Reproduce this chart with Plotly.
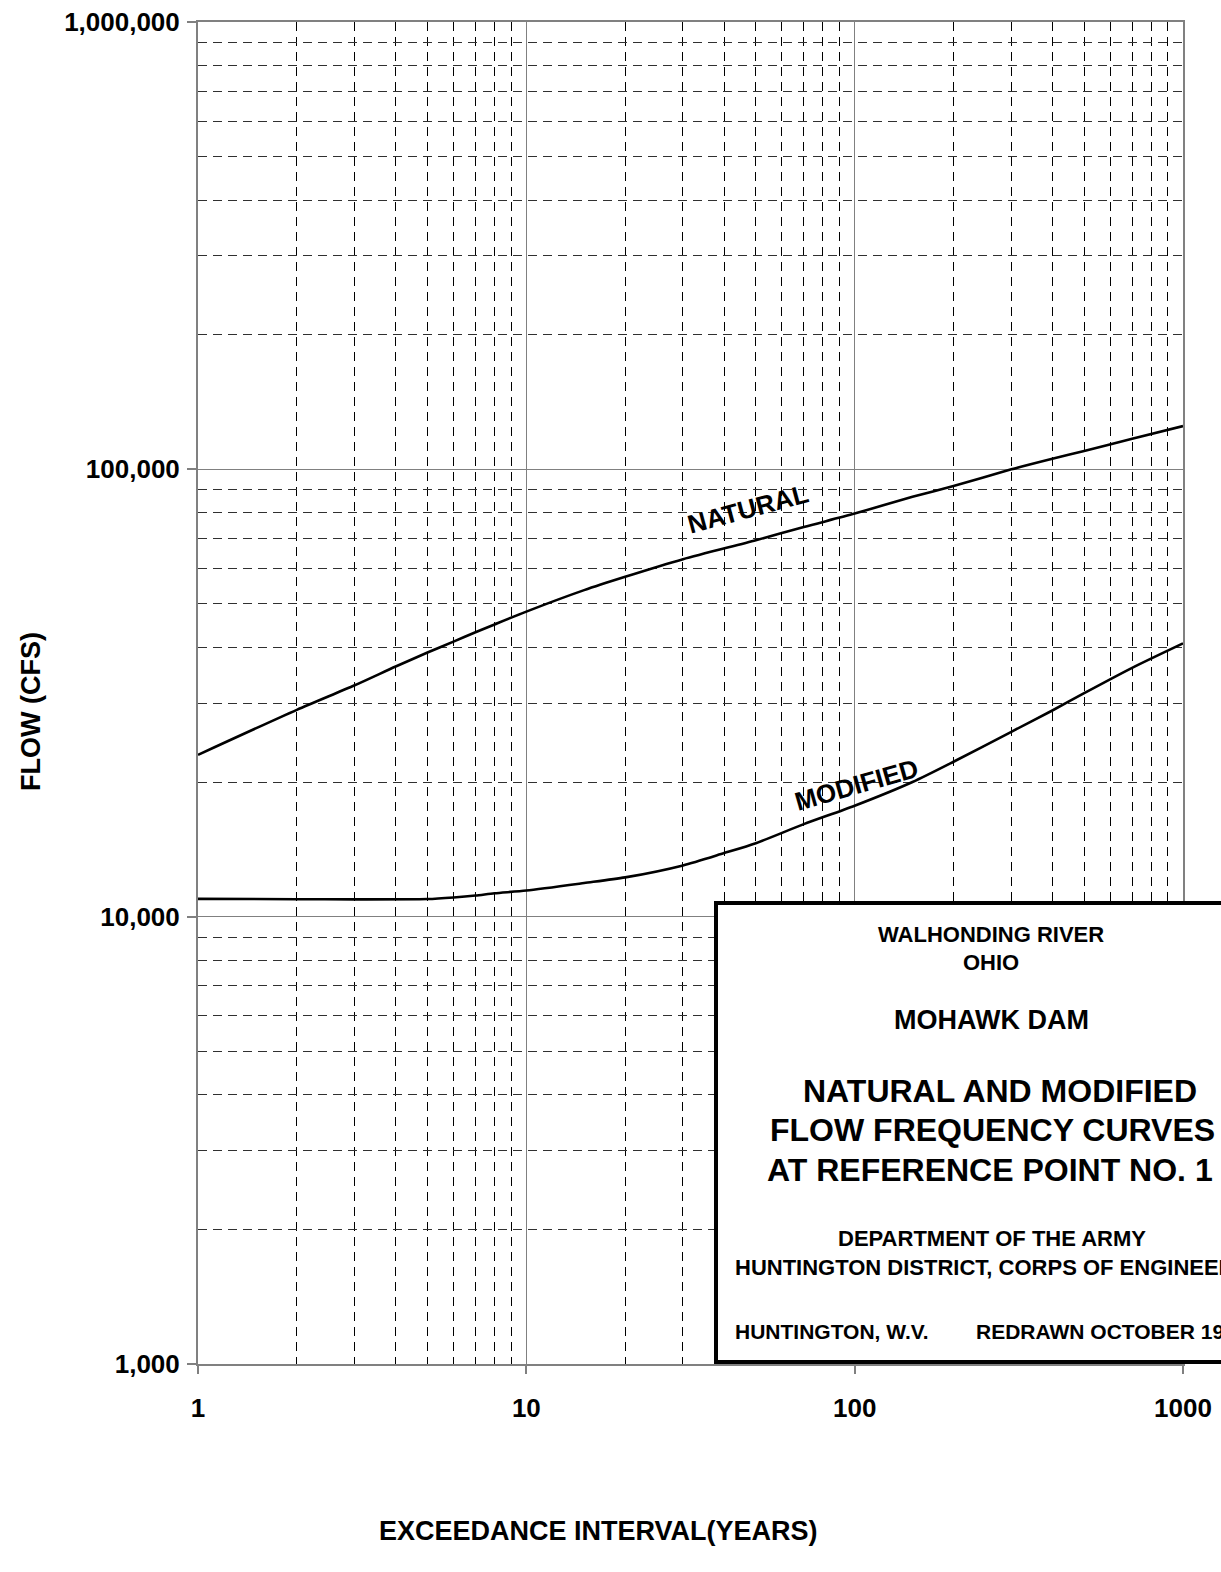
import math
import plotly.graph_objects as go

# ---- data ----
natural_x = [1, 2, 3, 4, 5, 6, 7, 8, 10, 15, 20, 30, 50, 70, 100, 150, 200, 300, 400, 500, 700, 1000]
natural_y = [23000, 29000, 32900, 36240, 38940, 41200, 43220, 45000, 48080, 53700, 57510, 62960,
             69410, 74330, 79620, 86800, 91800, 100000, 105600, 109900, 117100, 124950]

modified_x = [1, 2, 3, 5, 6, 7, 8, 10, 15, 20, 30, 40, 50, 70, 100, 150, 200, 300, 400, 500, 700, 1000]
modified_y = [10960, 10940, 10930, 10950, 11040, 11150, 11280, 11440, 11890, 12240, 13020, 13870,
              14600, 16100, 17700, 20000, 22200, 25900, 28900, 31600, 36000, 40830]

x_major = [1, 10, 100, 1000]
x_major_text = ["1", "10", "100", "1000"]
y_major = [1000, 10000, 100000, 1000000]
y_major_text = ["1,000", "10,000", "100,000", "1,000,000"]
x_minor = [m * d for d in (1, 10, 100) for m in range(2, 10)]
y_minor = [m * d for d in (1000, 10000, 100000) for m in range(2, 10)]

box_lines = [
    ("WALHONDING RIVER", 22, 991, 934),
    ("OHIO", 22, 991, 962),
    ("MOHAWK DAM", 27, 991, 1020),
    ("NATURAL AND MODIFIED", 32, 1000, 1091),
    ("FLOW FREQUENCY CURVES", 32, 992, 1130),
    ("AT REFERENCE POINT NO. 1", 32, 990, 1170),
    ("DEPARTMENT OF THE ARMY", 22, 992, 1238),
    ("HUNTINGTON DISTRICT, CORPS OF ENGINEERS", 22, 992, 1267),
]

# ---- geometry (body margin removed by post_script, so figure fills the window) ----
W, H = 1221, 1572
L, T = 198, 22
R = W - 1183
B = H - 1364
PW, PH = W - L - R, H - T - B

def px(xpage):
    return (xpage - L) / PW

def py(ypage):
    return (H - B - ypage) / PH

FONT = "Liberation Sans, Arial, sans-serif"

def bold(size):
    return dict(family=FONT, size=size, color="black", weight="bold")

fig = go.Figure()
for xs, ys in ((natural_x, natural_y), (modified_x, modified_y)):
    fig.add_trace(go.Scatter(x=xs, y=ys, mode="lines",
                             line=dict(color="black", width=2.6, shape="spline", smoothing=0.7),
                             showlegend=False, hoverinfo="skip"))

axis_common = dict(
    type="log",
    showline=True, linecolor="#808080", linewidth=2, mirror=True,
    showgrid=True, gridcolor="#808080", gridwidth=1,
    ticks="outside", tickcolor="#808080", tickwidth=1.5,
    tickfont=bold(26),
    ticklabeloverflow="allow",
    zeroline=False,
)

fig.update_xaxes(
    **axis_common,
    range=[0, 3], tickmode="array", tickvals=x_major, ticktext=x_major_text,
    ticklen=8, ticklabelstandoff=12,
    minor=dict(tickmode="array", tickvals=x_minor, showgrid=True,
               griddash="9px,6px", gridcolor="black", gridwidth=1, ticks=""),
)
fig.update_yaxes(
    **axis_common,
    range=[3, 6], tickmode="array", tickvals=y_major, ticktext=y_major_text,
    ticklen=9, ticklabelstandoff=2,
    minor=dict(tickmode="array", tickvals=y_minor, showgrid=True,
               griddash="9px,6px", gridcolor="#303030", gridwidth=1, ticks=""),
)

annotations = []
# axis titles
annotations.append(dict(x=px(598), y=py(1531), xref="paper", yref="paper",
                        xanchor="center", yanchor="middle", text="EXCEEDANCE INTERVAL(YEARS)",
                        showarrow=False, font=bold(27)))
annotations.append(dict(x=px(31), y=py(712), xref="paper", yref="paper",
                        xanchor="center", yanchor="middle", text="FLOW (CFS)", textangle=-90,
                        showarrow=False, font=bold(27)))
# curve labels (log-axis annotations use log10 coordinates)
annotations.append(dict(x=math.log10(47.2), y=math.log10(81700), xref="x", yref="y",
                        text="NATURAL", showarrow=False, textangle=-15, font=bold(26)))
annotations.append(dict(x=math.log10(101), y=math.log10(19700), xref="x", yref="y",
                        text="MODIFIED", showarrow=False, textangle=-16, font=bold(26)))

for text, size, xpix, ypix in box_lines:
    annotations.append(dict(x=px(xpix), y=py(ypix), xref="paper", yref="paper",
                            xanchor="center", yanchor="middle", text=text, showarrow=False,
                            font=bold(size)))
annotations.append(dict(x=px(733), y=py(1331), xref="paper", yref="paper",
                        xanchor="left", yanchor="middle", text="HUNTINGTON, W.V.", showarrow=False,
                        font=bold(21)))
annotations.append(dict(x=px(974), y=py(1331), xref="paper", yref="paper",
                        xanchor="left", yanchor="middle", text="REDRAWN OCTOBER 1999", showarrow=False,
                        font=bold(21)))

fig.update_layout(
    width=W, height=H,
    margin=dict(l=L, r=R, t=T, b=B, autoexpand=False),
    paper_bgcolor="white", plot_bgcolor="white",
    showlegend=False,
    annotations=annotations,
    shapes=[dict(type="rect", xref="paper", yref="paper",
                 x0=px(716), x1=px(1300), y0=py(1362), y1=py(903),
                 line=dict(color="black", width=4), fillcolor="white", layer="above")],
)

fig.write_html(
    "out.html",
    config={"displayModeBar": False},
    post_script="document.body.style.margin='0';document.body.style.overflow='hidden';",
)
